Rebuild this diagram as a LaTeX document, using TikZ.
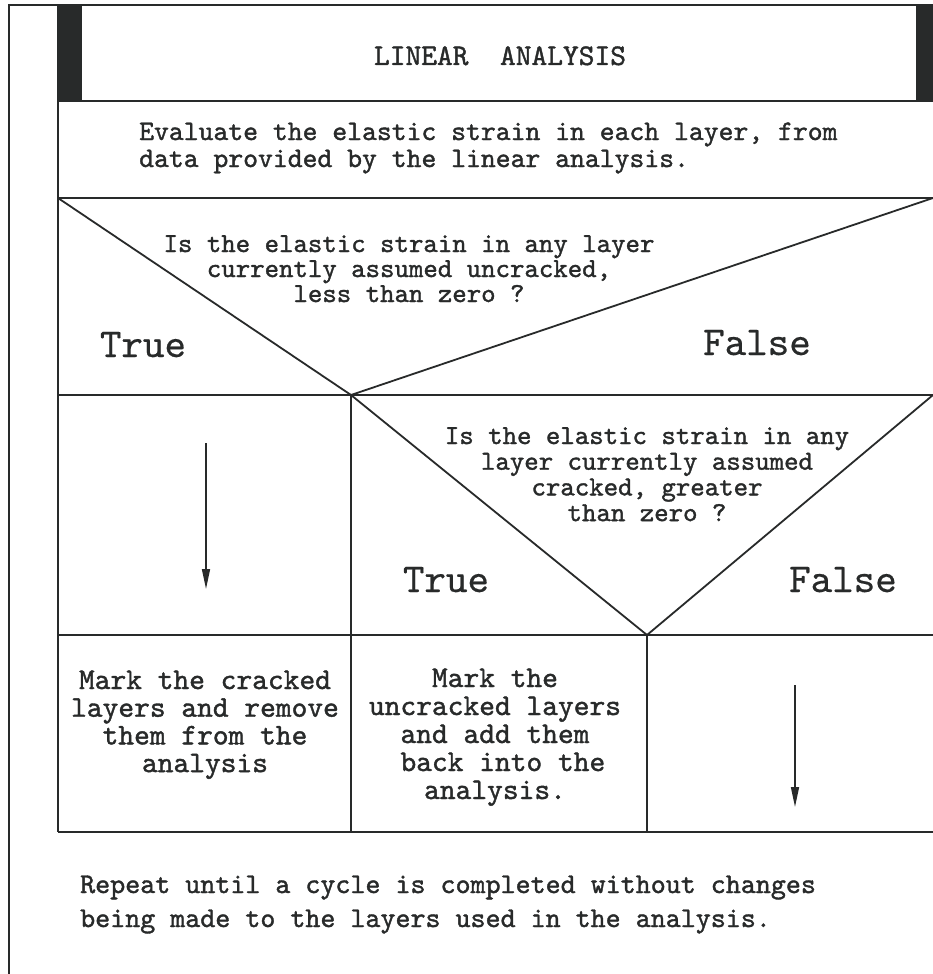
\documentclass[tikz,border=0pt]{standalone}
\usepackage{fontspec}
\setmonofont{lmmono10-regular.otf}[FakeBold=1.3]
\newfontfamily\plainmono{lmmono10-regular.otf}[FakeBold=0.4]
\usetikzlibrary{arrows.meta}
\definecolor{ink}{RGB}{40,42,42}
\newcommand{\tsz}[2]{\ttfamily\fontsize{#1}{#2}\selectfont}
\newcommand{\lsz}[1]{\plainmono\fontsize{#1}{#1}\selectfont}
\newcommand{\mlc}[1]{\begin{tabular}[t]{@{}c@{}}#1\end{tabular}}
\newcommand{\mll}[1]{\begin{tabular}[t]{@{}l@{}}#1\end{tabular}}
\tikzset{
  frameline/.style={draw=ink, line width=1.8pt},
  txt/.style={inner sep=0pt, text=ink},
  flowarrow/.style={draw=ink, line width=1.6pt, -{Triangle[length=20pt,width=8pt]}},
}
\begin{document}
\begin{tikzpicture}[x=1pt,y=-1pt]
\useasboundingbox (0,0) rectangle (933,974);
\fill[white] (0,0) rectangle (933,974);
% outer frame
\draw[frameline] (9,974) -- (9,5) -- (933,5);
% header bars
\fill[ink] (58,5) rectangle (82,101);
\fill[ink] (916,5) rectangle (933,101);
% inner frame
\draw[frameline] (58,5) -- (58,832);
\draw[frameline] (58,101) -- (933,101);
\draw[frameline] (58,198) -- (933,198);
\draw[frameline] (58,395) -- (933,395);
\draw[frameline] (58,635) -- (933,635);
\draw[frameline] (58,832) -- (933,832);
\draw[frameline] (351,395) -- (351,832);
\draw[frameline] (647,635) -- (647,832);
% decision diagonals
\draw[frameline] (58,198) -- (351,395) -- (933,198);
\draw[frameline] (351,395) -- (647,635) -- (933,395);
% texts
\node[txt, font={\tsz{30}{30}}, anchor=base] (title) at (500,65) {LINEAR\ \ ANALYSIS};
\node[txt, font={\tsz{28.3}{27}}, anchor=base west] (eval) at (139,140)
  {\mll{Evaluate the elastic strain in each layer, from\\data provided by the linear analysis.}};
\node[txt, font={\tsz{27.5}{25}}, anchor=base] (q1) at (409,252)
  {\mlc{Is the elastic strain in any layer\\currently assumed uncracked,\\less than zero ?}};
\node[txt, font={\lsz{41}}, anchor=base] (t1) at (143,357) {True};
\node[txt, font={\lsz{41}}, anchor=base] (f1) at (757,355) {False};
\node[txt, font={\tsz{27.5}{25.7}}, anchor=base] (q2) at (647,444)
  {\mlc{Is the elastic strain in any\\layer currently assumed\\cracked, greater\\than zero ?}};
\node[txt, font={\lsz{41}}, anchor=base] (t2) at (446,592) {True};
\node[txt, font={\lsz{41}}, anchor=base] (f2) at (843,592) {False};
\node[txt, font={\tsz{30}{27.7}}, anchor=base] (mc) at (205,689)
  {\mlc{Mark the cracked\\layers and remove\\them from the\\analysis}};
\node[txt, font={\tsz{30}{28}}, anchor=base] (mu) at (495,687)
  {\mlc{Mark the\\uncracked layers\\and add them\\\ back into the\\analysis.}};
\node[txt, font={\tsz{28.6}{34}}, anchor=base west] (rep) at (80,893)
  {\mll{Repeat until a cycle is completed without changes\\being made to the layers used in the analysis.}};
% arrows
\coordinate (a1s) at (206,443);
\coordinate (a1e) at (206,589);
\coordinate (a2s) at (795,685);
\coordinate (a2e) at (795,807);
\draw[flowarrow] (a1s) -- (a1e);
\draw[flowarrow] (a2s) -- (a2e);
\end{tikzpicture}
\end{document}
